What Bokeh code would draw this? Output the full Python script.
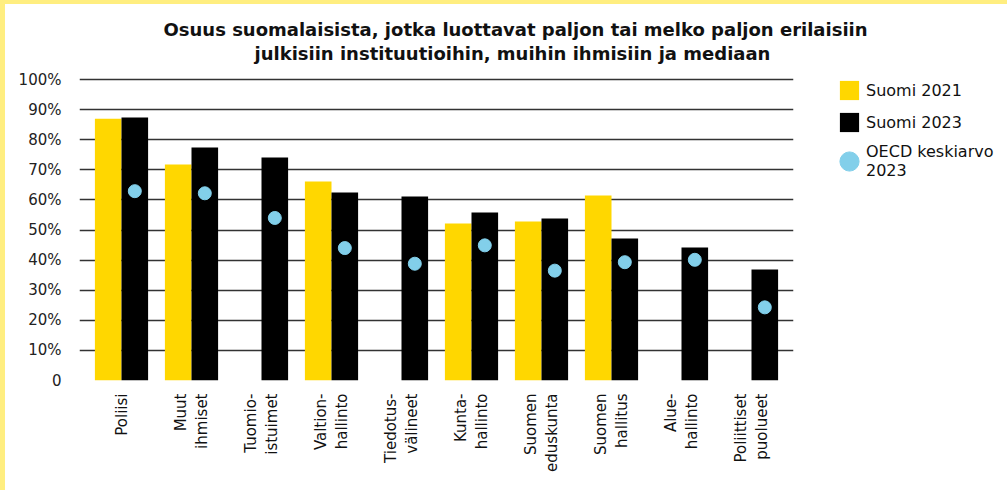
import math
from bokeh.plotting import figure
from bokeh.models import (ColumnDataSource, FactorRange, Range1d, FixedTicker, Title,
                          Legend, LegendItem)
from bokeh.transform import dodge
from bokeh.embed import file_html
from bokeh.resources import INLINE

# ---------------- data ----------------
categories = ["Poliisi", "Muut\nihmiset", "Tuomio-\nistuimet", "Valtion-\nhallinto",
              "Tiedotus-\nvälineet", "Kunta-\nhallinto", "Suomen\neduskunta",
              "Suomen\nhallitus", "Alue-\nhallinto", "Poliittiset\npuolueet"]
suomi_2021 = [87.0, 71.8, None, 66.1, None, 52.2, 52.8, 61.5, None, None]
suomi_2023 = [87.4, 77.4, 74.1, 62.5, 61.1, 55.8, 53.8, 47.2, 44.2, 36.9]
oecd_2023 = [62.9, 62.2, 54.0, 44.0, 38.8, 44.9, 36.5, 39.3, 40.1, 24.3]
y_ticks = [0, 10, 20, 30, 40, 50, 60, 70, 80, 90, 100]
y_tick_labels = ["0", "10%", "20%", "30%", "40%", "50%", "60%", "70%", "80%", "90%", "100%"]
series_names = ["Suomi 2021", "Suomi 2023", "OECD keskiarvo\n2023"]
title_lines = ["Osuus suomalaisista, jotka luottavat paljon tai melko paljon erilaisiin",
               "julkisiin instituutioihin, muihin ihmisiin ja mediaan"]

YELLOW = "#FFD700"
BLACK = "#000000"
BLUE = "#82CFEA"
FONT = "DejaVu Sans"
TITLE_FONT = "DejaVu Sans"

# ---------------- layout ----------------
W, H = 1007, 490
FL, FW = 79, 714
FT, FH = 76, 304          # y range 0..101 -> 3.01 px per unit

x_range = FactorRange(*categories, range_padding=0.1, range_padding_units="absolute")
p = figure(x_range=x_range, y_range=Range1d(0, 101),
           frame_width=FW, frame_height=FH,
           min_border_left=FL, min_border_top=FT,
           min_border_right=W - FL - FW, min_border_bottom=H - FT - FH,
           output_backend="svg", toolbar_location=None, tools="")
p.background_fill_color = "white"
p.border_fill_color = None
p.outline_line_color = None
p.styles = {"background-color": "white",
            "box-shadow": "inset 5px 4px 0px 0px #FFEE80"}

src21 = ColumnDataSource(dict(cat=[c for c, v in zip(categories, suomi_2021) if v is not None],
                              val=[v for v in suomi_2021 if v is not None]))
src23 = ColumnDataSource(dict(cat=categories, val=suomi_2023))
srco = ColumnDataSource(dict(cat=categories, val=oecd_2023))

r21 = p.vbar(x=dodge("cat", -0.19, range=p.x_range), top="val", width=0.38, bottom=0,
             source=src21, fill_color=YELLOW, line_color=None)
r23 = p.vbar(x=dodge("cat", 0.19, range=p.x_range), top="val", width=0.38, bottom=0,
             source=src23, fill_color=BLACK, line_color=None)
ro = p.ellipse(x=dodge("cat", 0.19, range=p.x_range), y="val", width=13, height=13,
               width_units="screen", height_units="screen", source=srco,
               fill_color=BLUE, line_color=BLUE)

# axes
p.yaxis.ticker = FixedTicker(ticks=y_ticks)
p.yaxis.major_label_overrides = {t: l for t, l in zip(y_ticks, y_tick_labels)}
p.yaxis.axis_line_color = None
p.yaxis.major_tick_line_color = None
p.yaxis.minor_tick_line_color = None
p.yaxis.major_label_standoff = 12
p.yaxis.major_label_text_font = FONT
p.yaxis.major_label_text_font_size = "15px"
p.yaxis.major_label_text_color = "#222222"

p.xaxis.major_label_orientation = math.pi / 2
p.xaxis.axis_line_color = None
p.xaxis.major_tick_line_color = None
p.xaxis.major_label_standoff = 7
p.xaxis.major_label_text_font = FONT
p.xaxis.major_label_text_font_size = "15px"
p.xaxis.major_label_text_color = "#111111"

p.xgrid.grid_line_color = None
p.ygrid.ticker = FixedTicker(ticks=y_ticks)
p.ygrid.grid_line_color = "#333333"
p.ygrid.grid_line_width = 1.5

# title (two lines)
p.title.text = title_lines[0]
p.title.align = "left"
p.title.offset = 84
p.title.text_font = TITLE_FONT
p.title.text_font_style = "bold"
p.title.text_font_size = "18px"
p.title.text_color = "#111111"
p.title.standoff = -25
p.add_layout(Title(text=title_lines[1], align="left", offset=175,
                   text_font=TITLE_FONT, text_font_style="bold",
                   text_font_size="18px", text_color="#111111", standoff=26), "above")

# legend
legend = Legend(items=[LegendItem(label=series_names[0], renderers=[r21]),
                       LegendItem(label=series_names[1], renderers=[r23]),
                       LegendItem(label=series_names[2], renderers=[ro])],
                location=(44, 200), orientation="vertical",
                glyph_width=24, glyph_height=24, label_height=24,
                label_standoff=5, spacing=8, padding=0, margin=0,
                border_line_color=None, background_fill_alpha=0,
                label_text_font=FONT, label_text_font_size="16px",
                label_text_color="#111111")
p.add_layout(legend, "right")

open("out.html", "w").write(file_html(p, INLINE))
